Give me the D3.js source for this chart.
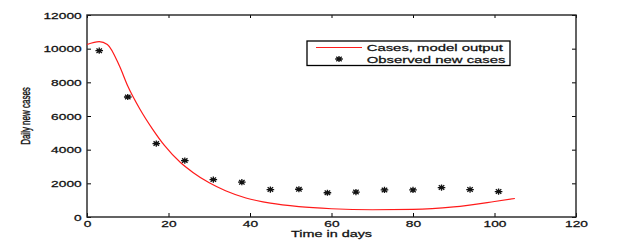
<!DOCTYPE html>
<html>
<head>
<meta charset="utf-8">
<script src="https://cdn.jsdelivr.net/npm/d3@7"></script>
<style>
  body { margin: 0; background: #fff; }
  svg { display: block; }
  text { font-family: "Liberation Sans", Arial, sans-serif; fill: #111; stroke: #111; stroke-width: 0.25px; }
</style>
</head>
<body>
<div id="chart"></div>
<script>
// ticks
const xTicks = [0, 20, 40, 60, 80, 100, 120];
const yTicks = [0, 2000, 4000, 6000, 8000, 10000, 12000];

// observed weekly new cases (stars)
const obsDays = [3, 10, 17, 24, 31, 38, 45, 52, 59, 66, 73, 80, 87, 94, 101];
const obsCases = [9880, 7130, 4360, 3350, 2220, 2070, 1630, 1650, 1440, 1480, 1610, 1610, 1750, 1630, 1510];

// model output (red line)
const modelDays = [0, 3, 5, 8, 10, 13, 16, 19, 23, 26, 30, 34, 39, 45, 52, 60, 70, 80, 90, 100, 105];
const modelCases = [10250, 10420, 10250, 8950, 7780, 6400, 5250, 4250, 3220, 2650, 2030, 1560, 1130, 820, 615, 490, 430, 450, 600, 920, 1100];

const legendLabels = ['Cases, model output', 'Observed new cases'];
const xTitle = 'Time in days';
const yTitle = 'Daily new cases';

const W = 633, H = 245;
const m = { top: 15, right: 57, bottom: 28, left: 87 };
const SX = 1.6; // text in the original figure is stretched sideways

const svg = d3.select('#chart').append('svg').attr('width', W).attr('height', H);

const x = d3.scaleLinear().domain([0, 120]).range([m.left, W - m.right]);
const y = d3.scaleLinear().domain([0, 12000]).range([H - m.bottom, m.top]);

// ticks pointing inward on all four sides
const styleAxis = g => {
  g.select('.domain').remove();
  g.selectAll('.tick line').attr('stroke', '#000').attr('stroke-width', 1);
};

svg.append('g').attr('transform', `translate(0,${y(0)})`)
  .call(d3.axisBottom(x).tickValues(xTicks).tickSize(-4).tickFormat(d3.format('d')))
  .call(styleAxis)
  .call(g => g.selectAll('.tick text')
    .attr('y', 10.3).attr('dy', 0)
    .attr('font-size', '8.6px').attr('font-family', null)
    .attr('transform', `scale(${SX},1)`).style('fill', '#111'));

svg.append('g').attr('transform', `translate(0,${y(12000)})`)
  .call(d3.axisTop(x).tickValues(xTicks).tickSize(-3).tickFormat(''))
  .call(styleAxis);

svg.append('g').attr('transform', `translate(${x(0)},0)`)
  .call(d3.axisLeft(y).tickValues(yTicks).tickSize(-4).tickFormat(d3.format('d')))
  .call(styleAxis)
  .call(g => g.selectAll('.tick text')
    .attr('x', -5.3 / SX).attr('dy', '0.36em')
    .attr('font-size', '8.6px').attr('font-family', null)
    .attr('transform', `scale(${SX},1)`).style('fill', '#111'));

svg.append('g').attr('transform', `translate(${x(120)},0)`)
  .call(d3.axisRight(y).tickValues(yTicks).tickSize(-4).tickFormat(''))
  .call(styleAxis);

// frame
svg.append('rect')
  .attr('x', x(0)).attr('y', y(12000))
  .attr('width', x(120) - x(0)).attr('height', y(0) - y(12000))
  .attr('fill', 'none').attr('stroke', '#222').attr('stroke-width', 1.4);

// model line
const line = d3.line().x(d => x(d[0])).y(d => y(d[1])).curve(d3.curveMonotoneX);
svg.append('path')
  .datum(d3.zip(modelDays, modelCases))
  .attr('d', line)
  .attr('fill', 'none').attr('stroke', '#ff1a1a').attr('stroke-width', 1.2);

// asterisk marker like matlab '*'
function starPath(cx, cy, rx, ry) {
  const p = d3.path();
  const dx = rx * 0.72, dy = ry * 0.72;
  p.moveTo(cx - rx, cy); p.lineTo(cx + rx, cy);
  p.moveTo(cx, cy - ry); p.lineTo(cx, cy + ry);
  p.moveTo(cx - dx, cy - dy); p.lineTo(cx + dx, cy + dy);
  p.moveTo(cx - dx, cy + dy); p.lineTo(cx + dx, cy - dy);
  return p.toString();
}

svg.append('g').selectAll('path')
  .data(d3.zip(obsDays, obsCases))
  .join('path')
  .attr('d', d => starPath(x(d[0]), y(d[1]), 3.8, 3.1))
  .attr('fill', 'none').attr('stroke', '#111').attr('stroke-width', 1.3);

// axis titles
svg.append('text')
  .attr('transform', `translate(${(x(0) + x(120)) / 2},236.5) scale(${SX},1)`)
  .attr('text-anchor', 'middle').attr('font-size', '9px')
  .text(xTitle);

svg.append('text')
  .attr('transform', `translate(30,${(y(0) + y(12000)) / 2}) scale(${SX},1) rotate(-90)`)
  .attr('text-anchor', 'middle').attr('font-size', '8px')
  .text(yTitle);

// legend
const lg = svg.append('g');
lg.append('rect')
  .attr('x', 307).attr('y', 41).attr('width', 203).attr('height', 24.5)
  .attr('fill', '#fff').attr('stroke', '#000').attr('stroke-width', 1.3);
lg.append('line')
  .attr('x1', 316).attr('x2', 362).attr('y1', 47.5).attr('y2', 47.5)
  .attr('stroke', '#ff1a1a').attr('stroke-width', 1.2);
lg.append('path')
  .attr('d', starPath(339, 59, 3.8, 3.1))
  .attr('fill', 'none').attr('stroke', '#111').attr('stroke-width', 1.3);
lg.selectAll('text').data(legendLabels).join('text')
  .attr('transform', (d, i) => `translate(366.7,${50.8 + i * 12}) scale(${SX},1)`)
  .attr('font-size', '9.3px')
  .text(d => d);
</script>
</body>
</html>
